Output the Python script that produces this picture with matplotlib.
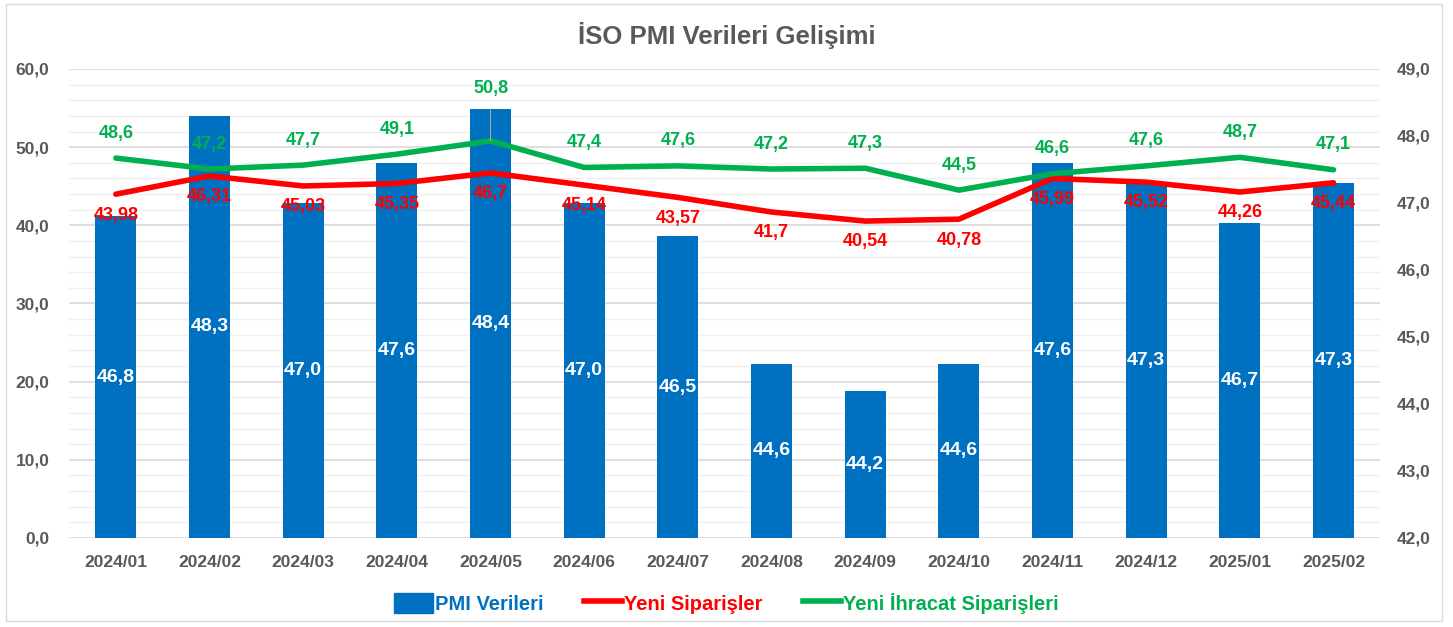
import matplotlib.pyplot as plt
import numpy as np
from matplotlib.ticker import MultipleLocator, FuncFormatter
from matplotlib.patches import Rectangle, Patch
from matplotlib.lines import Line2D

plt.rcParams['font.family'] = ['Liberation Sans', 'DejaVu Sans']

months = ["2024/01", "2024/02", "2024/03", "2024/04", "2024/05", "2024/06", "2024/07",
          "2024/08", "2024/09", "2024/10", "2024/11", "2024/12", "2025/01", "2025/02"]
pmi = [46.8, 48.3, 47.0, 47.6, 48.4, 47.0, 46.5, 44.6, 44.2, 44.6, 47.6, 47.3, 46.7, 47.3]
yeni_siparis = [43.98, 46.31, 45.03, 45.35, 46.7, 45.14, 43.57, 41.7, 40.54, 40.78,
                45.99, 45.52, 44.26, 45.44]
ihracat_siparis = [48.6, 47.2, 47.7, 49.1, 50.8, 47.4, 47.6, 47.2, 47.3, 44.5,
                   46.6, 47.6, 48.7, 47.1]

BLUE = "#0070C0"
RED = "#FF0000"
GREEN = "#00B050"
GRAY = "#595959"

x = np.arange(len(months))

fig = plt.figure(figsize=(14.53, 6.27), dpi=100)
ax = fig.add_axes([0.0475, 0.142, 0.9025, 0.748])
ax2 = ax.twinx()   # bars, right scale
ax3 = ax.twinx()   # lines, left scale

# left axis: grid + ticks
ax.set_ylim(0, 60)
ax.set_xlim(-0.5, len(months) - 0.5)
ax.yaxis.set_major_locator(MultipleLocator(10))
ax.yaxis.set_minor_locator(MultipleLocator(2))
ax.grid(which="major", axis="y", color="#D9D9D9", lw=1.2)
ax.grid(which="minor", axis="y", color="#F0F0F0", lw=1)
ax.set_axisbelow(True)
comma1 = FuncFormatter(lambda v, p: f"{v:.1f}".replace(".", ","))
ax.yaxis.set_major_formatter(comma1)
ax.tick_params(axis="y", which="both", length=0, pad=14, labelsize=12.5, labelcolor=GRAY)
ax.tick_params(axis="x", length=0, pad=12, labelsize=12.5, labelcolor=GRAY)
ax.set_xticks(x)
ax.set_xticklabels(months, fontweight="bold")
for t in ax.get_yticklabels():
    t.set_fontweight("bold")

# bars on right axis
ax2.set_ylim(42, 49)
ax2.yaxis.set_major_locator(MultipleLocator(1))
ax2.yaxis.set_major_formatter(comma1)
ax2.tick_params(axis="y", length=0, pad=12, labelsize=12.5, labelcolor=GRAY)
for t in ax2.get_yticklabels():
    t.set_fontweight("bold")
ax2.bar(x, np.array(pmi) - 42, bottom=42, width=0.44, color=BLUE, zorder=2)
for xi, v in zip(x, pmi):
    ax2.text(xi, (42 + v) / 2, f"{v:.1f}".replace(".", ","), ha="center", va="center",
             color="white", fontsize=14, fontweight="bold")

# lines on left scale
ax3.set_ylim(0, 60)
ax3.set_yticks([])
ax3.plot(x, yeni_siparis, color=RED, lw=4, solid_capstyle="round", zorder=3)
ax3.plot(x, ihracat_siparis, color=GREEN, lw=4, solid_capstyle="round", zorder=3)
for xi, v in zip(x, yeni_siparis):
    ax3.annotate(f"{v:g}".replace(".", ","), (xi, v), xytext=(0, -15),
                 textcoords="offset points", ha="center", va="center",
                 color=RED, fontsize=13, fontweight="bold")
for xi, v in zip(x, ihracat_siparis):
    if v == max(ihracat_siparis):
        ax3.annotate(f"{v:.1f}".replace(".", ","), (xi, v), xytext=(0, 38),
                     textcoords="offset points", ha="center", va="center",
                     color=GREEN, fontsize=13, fontweight="bold",
                     arrowprops=dict(arrowstyle="-", color="#A6A6A6", lw=0.8,
                                     shrinkA=7, shrinkB=0))
    else:
        ax3.annotate(f"{v:.1f}".replace(".", ","), (xi, v), xytext=(0, 18),
                     textcoords="offset points", ha="center", va="center",
                     color=GREEN, fontsize=13, fontweight="bold")

for a in (ax, ax2, ax3):
    for s in a.spines.values():
        s.set_visible(False)
ax3.patch.set_visible(False)
ax2.patch.set_visible(False)

fig.text(0.5, 0.944, "İSO PMI Verileri Gelişimi", ha="center", va="center",
         fontsize=18.5, fontweight="bold", color=GRAY)

handles = [Patch(facecolor=BLUE, edgecolor=BLUE),
           Line2D([0], [0], color=RED, lw=4),
           Line2D([0], [0], color=GREEN, lw=4)]
fig.legend(handles, ["PMI Verileri", "Yeni Siparişler", "Yeni İhracat Siparişleri"],
           loc="center", bbox_to_anchor=(0.5, 0.038), ncol=3, frameon=False,
           labelcolor=[BLUE, RED, GREEN], prop=dict(size=14.5, weight="bold"),
           handlelength=1.9, handleheight=1.2, handletextpad=0.1, columnspacing=2.0)

fig.patches.append(Rectangle((6 / 1453, 1 - 621 / 627), 1436 / 1453, 617 / 627,
                             transform=fig.transFigure, fill=False,
                             edgecolor="#D9D9D9", lw=1))

fig.savefig("out.png", dpi=100)
